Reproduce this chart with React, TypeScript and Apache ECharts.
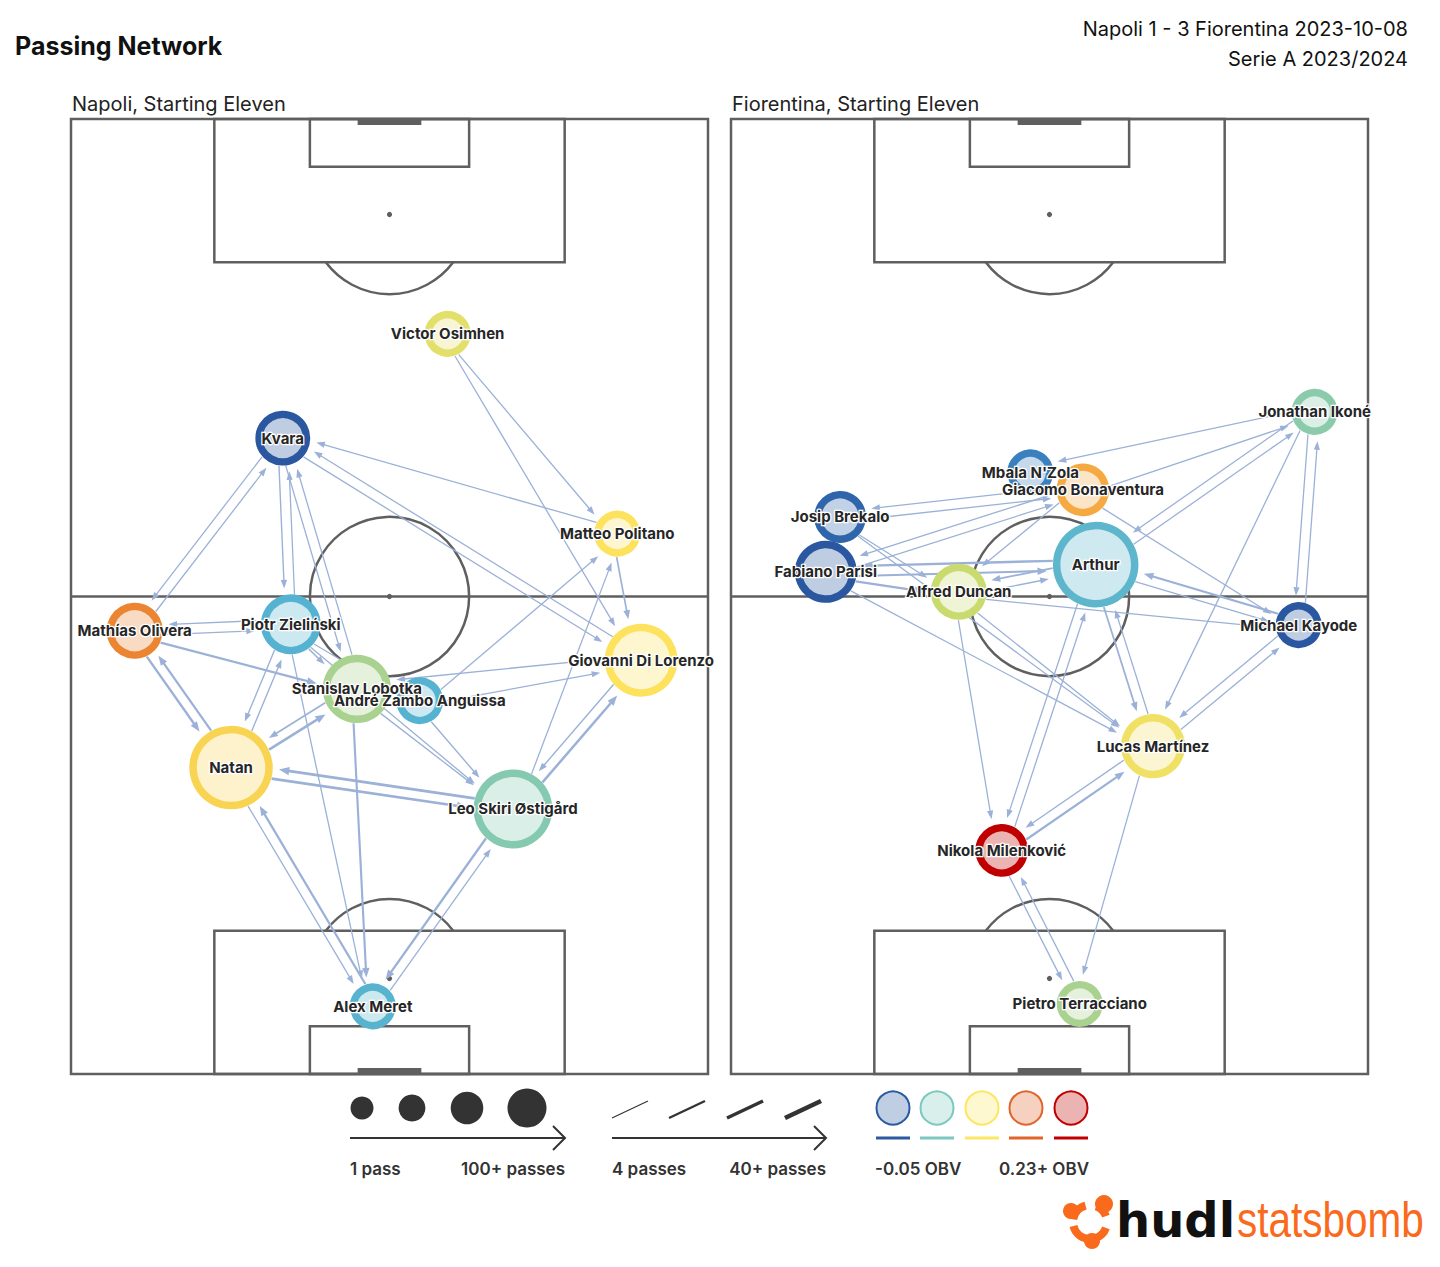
import React, { useEffect, useRef } from 'react';
import * as echarts from 'echarts';

// ---------- texts ----------
const CHART_TITLE = 'Passing Network';
const MATCH_TITLE = 'Napoli 1 - 3 Fiorentina 2023-10-08';
const COMPETITION = 'Serie A 2023/2024';
const TEAM_LABELS = ['Napoli, Starting Eleven', 'Fiorentina, Starting Eleven'];
const SIZE_LEGEND_LABELS = ['1 pass', '100+ passes'];
const LINE_LEGEND_LABELS = ['4 passes', '40+ passes'];
const OBV_LEGEND_LABELS = ['-0.05 OBV', '0.23+ OBV'];

// ---------- Napoli (pitch coords: across 0-80, along 0-120 toward attacking goal) ----------
const napoliNames = ['Victor Osimhen', 'Kvara', 'Matteo Politano', 'Mathías Olivera', 'Piotr Zieliński', 'Giovanni Di Lorenzo', 'Stanislav Lobotka', 'André Zambo Anguissa', 'Natan', 'Leo Skiri Østigård', 'Alex Meret'];
const napoliAcross = [47.3, 26.6, 68.6, 8.0, 27.6, 71.6, 35.9, 43.8, 20.1, 55.5, 37.9];
const napoliAlong = [93.0, 79.9, 67.9, 55.7, 56.5, 52.0, 48.4, 46.9, 38.5, 33.3, 8.5];
const napoliPasses = [6, 27, 6, 30, 39, 70, 59, 8, 95, 84, 6];
const napoliObv = [0.12, -0.05, 0.14, 0.205, 0.01, 0.14, 0.07, 0.01, 0.16, 0.04, 0.012];
// [from, to, passes]
const napoliLinks = [
  [0, 2, 5], [0, 5, 5], [2, 1, 5], [1, 5, 5], [5, 1, 5], [1, 3, 5], [3, 1, 5],
  [1, 4, 6], [4, 1, 5], [1, 6, 5], [6, 1, 5], [4, 3, 5], [3, 4, 6], [3, 6, 16],
  [3, 8, 16], [8, 3, 15], [8, 4, 6], [4, 8, 6], [8, 6, 18], [6, 8, 9], [8, 9, 20],
  [9, 8, 20], [8, 10, 5], [10, 8, 15], [6, 10, 14], [4, 10, 5], [9, 10, 16], [10, 9, 5],
  [9, 5, 18], [5, 9, 6], [9, 2, 5], [2, 5, 9], [7, 2, 5], [5, 6, 6], [7, 5, 5],
  [6, 9, 5], [7, 9, 6], [4, 6, 7], [4, 7, 5], [4, 9, 5],
];

// ---------- Fiorentina ----------
const fiorentinaNames = ['Jonathan Ikoné', "Mbala N'Zola", 'Giacomo Bonaventura', 'Josip Brekalo', 'Arthur', 'Fabiano Parisi', 'Alfred Duncan', 'Michael Kayode', 'Lucas Martínez', 'Nikola Milenković', 'Pietro Terracciano'];
const fiorentinaAcross = [73.3, 37.6, 44.2, 13.7, 45.8, 11.9, 28.6, 71.3, 53.0, 34.0, 43.8];
const fiorentinaAlong = [83.2, 75.6, 73.4, 70.0, 64.0, 63.1, 60.6, 56.4, 41.2, 28.1, 8.8];
const fiorentinaPasses = [6, 6, 22, 20, 100, 44, 30, 6, 49, 22, 6];
const fiorentinaObv = [0.045, -0.02, 0.19, -0.04, 0.015, -0.05, 0.1, -0.05, 0.13, 0.23, 0.07];
const fiorentinaLinks = [
  [0, 1, 5], [2, 0, 5], [0, 4, 5], [4, 0, 5], [0, 8, 5], [0, 7, 5], [7, 0, 5],
  [2, 3, 5], [3, 2, 5], [5, 2, 5], [2, 5, 5], [4, 5, 16], [5, 4, 14], [4, 6, 10],
  [6, 4, 6], [5, 6, 14], [3, 6, 5], [3, 8, 5], [5, 8, 5], [6, 7, 5], [7, 4, 14],
  [4, 7, 5], [7, 8, 5], [8, 7, 5], [4, 8, 10], [8, 4, 5], [6, 8, 5], [9, 8, 14],
  [8, 9, 6], [4, 9, 5], [9, 4, 5], [6, 9, 5], [9, 10, 5], [10, 9, 5], [8, 10, 5],
  [2, 6, 5], [2, 7, 5],
];

// OBV colour scale stops [obv, colour]
const OBV_STOPS: [number, string][] = [
  [-0.05, '#2a579f'], [-0.02, '#3a80bf'], [0.01, '#55b2d0'], [0.04, '#85c9b0'],
  [0.07, '#a9d18f'], [0.1, '#c9db6f'], [0.12, '#e3df6b'], [0.14, '#fde25e'],
  [0.16, '#f8d452'], [0.19, '#f5a940'], [0.21, '#e8792d'], [0.23, '#c00000'],
];
const LEGEND_SIZES = [1, 25, 60, 100];
const LEGEND_LINE_COUNTS = [4, 16, 28, 40];
const LEGEND_OBV_COLORS = ['#2b5aa0', '#7cc8c1', '#fde662', '#e0652a', '#c00000'];

// ---------- styles ----------
const LINE = '#5f5f5f';
const PASS = '#9bb1d7';
const FONT = 'Inter';
const RING = 7.5;
const ORANGE = '#fa6a1c';

const hexToRgb = (h: string) => {
  const n = parseInt(h.slice(1), 16);
  return [(n >> 16) & 255, (n >> 8) & 255, n & 255];
};
const rgbToHex = (c: number[]) => '#' + c.map((v) => Math.round(v).toString(16).padStart(2, '0')).join('');
const obvColor = (v: number) => {
  if (v <= OBV_STOPS[0][0]) return OBV_STOPS[0][1];
  for (let i = 1; i < OBV_STOPS.length; i++) {
    if (v <= OBV_STOPS[i][0]) {
      const [a, ca] = OBV_STOPS[i - 1];
      const [b, cb] = OBV_STOPS[i];
      const t = (v - a) / (b - a);
      const A = hexToRgb(ca), B = hexToRgb(cb);
      return rgbToHex(A.map((x, k) => x + (B[k] - x) * t));
    }
  }
  return OBV_STOPS[OBV_STOPS.length - 1][1];
};
const tint = (hex: string, a: number) => rgbToHex(hexToRgb(hex).map((x) => 255 - (255 - x) * a));
const nodeDiameter = (c: number) => 44 + 0.42 * (Math.min(c, 100) - 1);
const passWidth = (c: number) => 1.2 + ((Math.min(Math.max(c, 4), 40) - 4) / 36) * 3.4;

const pitchRender = (_params: any, api: any) => {
  const c = (x: number, y: number) => api.coord([x, y]);
  const st = { stroke: LINE, lineWidth: 2.5, fill: 'none' };
  const box = (x0: number, y0: number, x1: number, y1: number) => {
    const a = c(x0, y1), b = c(x1, y0);
    return { type: 'rect', shape: { x: a[0], y: a[1], width: b[0] - a[0], height: b[1] - a[1] }, style: st };
  };
  const unit = c(1, 0)[0] - c(0, 0)[0];
  const centre = c(40, 60);
  const topSpot = c(40, 108);
  const botSpot = c(40, 12);
  const gTop = c(36, 120), gTopR = c(44, 120);
  const gBot = c(36, 0), gBotR = c(44, 0);
  const left = c(0, 60), right = c(80, 60);
  const a0 = Math.asin(0.6);
  return {
    type: 'group',
    children: [
      box(0, 0, 80, 120),
      { type: 'line', shape: { x1: left[0], y1: left[1], x2: right[0], y2: right[1] }, style: st },
      { type: 'circle', shape: { cx: centre[0], cy: centre[1], r: 10 * unit }, style: st },
      { type: 'circle', shape: { cx: centre[0], cy: centre[1], r: 2.6 }, style: { fill: LINE } },
      box(18, 102, 62, 120),
      box(30, 114, 50, 120),
      box(18, 0, 62, 18),
      box(30, 0, 50, 6),
      { type: 'circle', shape: { cx: topSpot[0], cy: topSpot[1], r: 2.6 }, style: { fill: LINE } },
      { type: 'circle', shape: { cx: botSpot[0], cy: botSpot[1], r: 2.6 }, style: { fill: LINE } },
      { type: 'arc', shape: { cx: topSpot[0], cy: topSpot[1], r: 10 * unit, startAngle: a0, endAngle: Math.PI - a0, clockwise: true }, style: st },
      { type: 'arc', shape: { cx: botSpot[0], cy: botSpot[1], r: 10 * unit, startAngle: Math.PI + a0, endAngle: 2 * Math.PI - a0, clockwise: true }, style: st },
      { type: 'rect', shape: { x: gTop[0], y: gTop[1], width: gTopR[0] - gTop[0], height: 6 }, style: { fill: LINE } },
      { type: 'rect', shape: { x: gBot[0], y: gBot[1] - 6, width: gBotR[0] - gBot[0], height: 6 }, style: { fill: LINE } },
    ],
  };
};

type Team = { names: string[]; across: number[]; along: number[]; passes: number[]; obv: number[]; links: number[][] };

const buildSeries = (team: Team, g: number) => {
  const diam = team.passes.map(nodeDiameter);
  const colors = team.obv.map(obvColor);
  const pitch = {
    type: 'custom', xAxisIndex: g, yAxisIndex: g, data: [[40, 60]], renderItem: pitchRender,
    z: 1, silent: true, clip: false,
  };
  const passes = {
    type: 'custom', xAxisIndex: g, yAxisIndex: g, z: 2, silent: true, clip: false,
    data: team.links.map((l) => ({ value: [team.across[l[0]], team.along[l[0]], l[0], l[1], l[2]] })),
    renderItem: (_p: any, api: any) => {
      const f = api.value(2), t = api.value(3), cnt = api.value(4);
      const p1 = api.coord([team.across[f], team.along[f]]);
      const p2 = api.coord([team.across[t], team.along[t]]);
      const dx = p2[0] - p1[0], dy = p2[1] - p1[1];
      const L = Math.hypot(dx, dy);
      const ux = dx / L, uy = dy / L;
      const nx = -uy, ny = ux;
      const off = 5;
      const w = passWidth(cnt);
      const r1 = diam[f] / 2, r2 = diam[t] / 2 + 6;
      const sx = p1[0] + ux * r1 + nx * off, sy = p1[1] + uy * r1 + ny * off;
      const ex = p2[0] - ux * r2 + nx * off, ey = p2[1] - uy * r2 + ny * off;
      const hl = 7 + w * 1.2, hw = 2.2 + w * 0.7;
      const bx = ex - ux * hl, by = ey - uy * hl;
      return {
        type: 'group',
        children: [
          { type: 'line', shape: { x1: sx, y1: sy, x2: bx + ux * 1, y2: by + uy * 1 }, style: { stroke: PASS, lineWidth: w } },
          { type: 'polygon', shape: { points: [[ex, ey], [bx + nx * hw, by + ny * hw], [bx - nx * hw, by - ny * hw]] }, style: { fill: PASS } },
        ],
      };
    },
  };
  const nodes = {
    type: 'scatter', xAxisIndex: g, yAxisIndex: g, z: 3, silent: true,
    data: team.names.map((n, i) => ({
      name: n,
      value: [team.across[i], team.along[i]],
      symbolSize: diam[i] - RING,
      itemStyle: { color: tint(colors[i], 0.3), borderColor: colors[i], borderWidth: RING, opacity: 1 },
    })),
    label: {
      show: true, position: 'inside', formatter: '{b}', fontFamily: FONT, fontWeight: 'bold', fontSize: 15,
      color: '#262626', textBorderColor: '#ffffff', textBorderWidth: 2.5,
    },
  };
  return [pitch, passes, nodes];
};

const legendGraphics = () => {
  const els: any[] = [];
  const txt = (text: string, x: number, y: number, align: string, size: number, weight: any, fill = '#333', family = FONT) => ({
    type: 'text', x, y, silent: true,
    style: { text, align, verticalAlign: 'middle', fontSize: size, fontWeight: weight, fontFamily: family, fill },
  });
  els.push(txt(CHART_TITLE, 15, 46, 'left', 25, 'bold', '#111'));
  els.push(txt(MATCH_TITLE, 1408, 29, 'right', 20, 'normal', '#111'));
  els.push(txt(COMPETITION, 1408, 59, 'right', 20, 'normal', '#111'));
  els.push(txt(TEAM_LABELS[0], 72, 104, 'left', 20, 'normal', '#222'));
  els.push(txt(TEAM_LABELS[1], 732, 104, 'left', 20, 'normal', '#222'));

  // node-size legend
  const sizeX = [362, 412, 467, 527];
  LEGEND_SIZES.forEach((s, i) => {
    const d = 23 + (s - 1) * (16 / 99);
    els.push({ type: 'circle', silent: true, shape: { cx: sizeX[i], cy: 1108, r: d / 2 }, style: { fill: '#333' } });
  });
  const arrow = (x0: number, x1: number) => {
    els.push({ type: 'line', silent: true, shape: { x1: x0, y1: 1138, x2: x1, y2: 1138 }, style: { stroke: '#333', lineWidth: 2 } });
    els.push({ type: 'polyline', silent: true, shape: { points: [[x1 - 12, 1126], [x1, 1138], [x1 - 12, 1150]] }, style: { stroke: '#333', lineWidth: 2, fill: 'none' } });
  };
  arrow(350, 565);
  els.push(txt(SIZE_LEGEND_LABELS[0], 350, 1169, 'left', 17, 600));
  els.push(txt(SIZE_LEGEND_LABELS[1], 565, 1169, 'right', 17, 600));

  // pass-width legend
  const lineX = [612, 669, 727, 785];
  LEGEND_LINE_COUNTS.forEach((c, i) => {
    els.push({ type: 'line', silent: true, shape: { x1: lineX[i], y1: 1118, x2: lineX[i] + 36, y2: 1101 }, style: { stroke: '#333', lineWidth: passWidth(c) } });
  });
  arrow(612, 826);
  els.push(txt(LINE_LEGEND_LABELS[0], 612, 1169, 'left', 17, 600));
  els.push(txt(LINE_LEGEND_LABELS[1], 826, 1169, 'right', 17, 600));

  // OBV legend
  const obvX = [893, 937, 982, 1026, 1071];
  LEGEND_OBV_COLORS.forEach((col, i) => {
    els.push({ type: 'circle', silent: true, shape: { cx: obvX[i], cy: 1108, r: 16.5 }, style: { fill: tint(col, 0.3), stroke: col, lineWidth: 2 } });
    els.push({ type: 'line', silent: true, shape: { x1: obvX[i] - 17, y1: 1138, x2: obvX[i] + 17, y2: 1138 }, style: { stroke: col, lineWidth: 3 } });
  });
  els.push(txt(OBV_LEGEND_LABELS[0], 875, 1169, 'left', 17, 600));
  els.push(txt(OBV_LEGEND_LABELS[1], 1089, 1169, 'right', 17, 600));

  // logo
  const cx = 1090, cy = 1222;
  [[-1.2, -0.35], [0.35, 1.25], [1.75, 2.9], [3.3, 4.45]].forEach(([a, b]) => {
    els.push({ type: 'arc', silent: true, shape: { cx, cy, r: 17, startAngle: a, endAngle: b, clockwise: true }, style: { stroke: ORANGE, lineWidth: 8, fill: 'none' } });
  });
  els.push({ type: 'circle', silent: true, shape: { cx: 1104, cy: 1204, r: 9 }, style: { fill: ORANGE } });
  els.push({ type: 'circle', silent: true, shape: { cx: 1071, cy: 1211, r: 8 }, style: { fill: ORANGE } });
  els.push({ type: 'circle', silent: true, shape: { cx: 1092, cy: 1241, r: 8 }, style: { fill: ORANGE } });
  els.push(txt('hudl', 1116, 1220, 'left', 48, 'bold', '#111', 'DejaVu Sans'));
  els.push({ ...txt('statsbomb', 1237, 1220, 'left', 50, 'normal', ORANGE, 'Liberation Sans'), scaleX: 0.81 });
  return els;
};

export default function App() {
  const ref = useRef<HTMLDivElement>(null);
  useEffect(() => {
    if (!ref.current) return;
    const chart = echarts.init(ref.current, undefined, { renderer: 'svg' });
    const napoli: Team = { names: napoliNames, across: napoliAcross, along: napoliAlong, passes: napoliPasses, obv: napoliObv, links: napoliLinks };
    const fiorentina: Team = { names: fiorentinaNames, across: fiorentinaAcross, along: fiorentinaAlong, passes: fiorentinaPasses, obv: fiorentinaObv, links: fiorentinaLinks };
    chart.setOption({
      animation: false,
      backgroundColor: '#ffffff',
      grid: [
        { left: 71, top: 119, width: 637, height: 955 },
        { left: 731, top: 119, width: 637, height: 955 },
      ],
      xAxis: [0, 1].map((g) => ({ gridIndex: g, type: 'value', min: 0, max: 80, show: false })),
      yAxis: [0, 1].map((g) => ({ gridIndex: g, type: 'value', min: 0, max: 120, show: false })),
      series: [...buildSeries(napoli, 0), ...buildSeries(fiorentina, 1)],
      graphic: legendGraphics(),
    });
    return () => chart.dispose();
  }, []);
  return <div ref={ref} style={{ position: 'absolute', left: 0, top: 0, width: 1440, height: 1267, background: '#fff' }} />;
}
